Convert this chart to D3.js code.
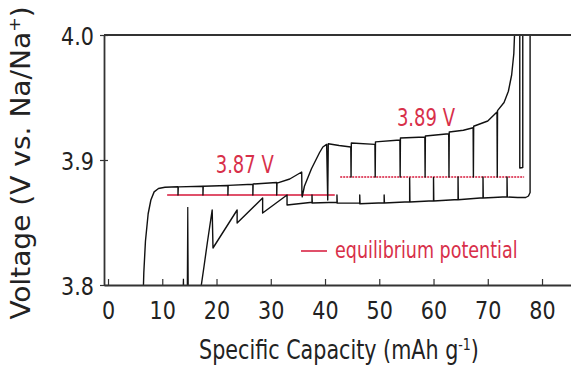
<!DOCTYPE html>
<html>
<head>
<meta charset="utf-8">
<script src="https://cdn.jsdelivr.net/npm/d3@7/dist/d3.min.js"></script>
<style>
  html, body { margin: 0; padding: 0; background: #fff; }
  svg { display: block; }
  .lbl { font-family: "DejaVu Sans Condensed", "DejaVu Sans", sans-serif; font-stretch: condensed; }
</style>
</head>
<body>
<svg id="chart" width="571" height="371"></svg>
<script>
// Axis ticks
const capTicks = [0, 10, 20, 30, 40, 50, 60, 70, 80];
const voltTicks = [3.8, 3.9, 4.0];

// GITT charge branch: [capacity mAh/g, voltage V]
const charge = [
  [6.40, 3.780], [6.60, 3.810], [6.90, 3.835], [7.40, 3.857], [7.90, 3.868], [8.50, 3.8745], [9.30, 3.8772], [10.5, 3.8782],
  [12.9, 3.8786], [12.9, 3.8720], [12.95, 3.8785],
  [17.5, 3.8790], [17.5, 3.8720], [17.55, 3.8790],
  [22.1, 3.8796], [22.1, 3.8720], [22.15, 3.8797],
  [26.7, 3.8806], [26.7, 3.8720], [26.75, 3.8808],
  [31.1, 3.8820], [31.1, 3.8720], [31.15, 3.8815], [33.5, 3.8848], [35.7, 3.8904],
  [35.75, 3.8720], [35.8, 3.8705], [36.2, 3.8790], [37.5, 3.8930], [39.0, 3.9060], [39.6, 3.9104], [40.3, 3.9125],
  [40.5, 3.8680], [40.6, 3.9130], [42.6, 3.9116], [44.75, 3.9104],
  [44.8, 3.8864], [44.85, 3.9136], [49.2, 3.9125],
  [49.25, 3.8864], [49.3, 3.9145], [53.8, 3.9160],
  [53.85, 3.8864], [53.9, 3.9176], [58.4, 3.9184],
  [58.45, 3.8864], [58.5, 3.9192], [62.8, 3.9210],
  [62.85, 3.8864], [62.9, 3.9224], [65.5, 3.9238], [67.3, 3.9258],
  [67.35, 3.8864], [67.4, 3.9270], [70.0, 3.9312], [71.7, 3.9384],
  [71.75, 3.8864], [71.8, 3.9395], [73.0, 3.9460], [73.8, 3.9550], [74.4, 3.9680], [74.8, 3.9850], [75.1, 4.0200],
  [75.9, 4.0200], [75.9, 3.8936], [76.45, 3.8940], [76.45, 4.0200]
];

// GITT discharge branch, running back toward low capacity
const discharge = [
  [77.8, 4.0200], [77.8, 3.8740], [77.5, 3.8712], [77.0, 3.8700], [75.5, 3.8700], [73.55, 3.8704],
  [73.55, 3.8864], [73.6, 3.8706], [71.0, 3.8700], [69.12, 3.8696],
  [69.12, 3.8864], [69.17, 3.8698], [64.52, 3.8682],
  [64.52, 3.8864], [64.57, 3.8684], [60.0, 3.8672],
  [60.0, 3.8860], [60.05, 3.8674], [55.6, 3.8664],
  [55.6, 3.8856], [55.65, 3.8666], [50.9, 3.8656],
  [50.9, 3.8720], [50.95, 3.8658], [46.4, 3.8650],
  [46.4, 3.8720], [46.45, 3.8655], [42.2, 3.8656],
  [42.2, 3.8720], [42.25, 3.8662], [37.6, 3.8656],
  [37.6, 3.8720], [37.65, 3.8662], [33.0, 3.8640],
  [33.0, 3.8720], [28.5, 3.8576],
  [28.5, 3.8696], [23.8, 3.8496],
  [23.8, 3.8600], [19.35, 3.8296],
  [19.2, 3.8600], [18.3, 3.8336], [17.7, 3.8150], [17.2, 3.8000], [17.0, 3.7900]
];

// Final rest after discharge cut-off: [capacity, relaxed voltage]
const tailRest = [[13.8, 3.8050], [14.6, 3.8624]];

// Equilibrium potential segments
const eqFrom = [10.9, 42.8];
const eqTo = [41.8, 76.7];
const eqVolt = [3.872, 3.8864];
const eqText = ["3.87 V", "3.89 V"];
const eqTextAt = [[25.2, 3.8952], [58.6, 3.9328]];

const svg = d3.select("#chart");
const plotLeft = 104, plotTop = 35, plotBottom = 285, plotRight = 580;

const x = d3.scaleLinear().domain([-0.74, 87]).range([plotLeft, plotRight]);
const y = d3.scaleLinear().domain([3.8, 4.0]).range([plotBottom, plotTop]);

const red = "#d8304a";
const ink = "#222";

// text placed at (px, py), stretched vertically by sy
function label(px, py, sy, size, color, anchor) {
  return svg.append("g").attr("transform", `translate(${px},${py}) scale(1,${sy})`)
    .append("text").attr("class", "lbl").attr("font-size", size)
    .attr("fill", color).attr("text-anchor", anchor);
}

svg.append("defs").append("clipPath").attr("id", "plotClip")
  .append("rect").attr("x", plotLeft).attr("y", plotTop)
  .attr("width", plotRight - plotLeft).attr("height", plotBottom - plotTop);

const plot = svg.append("g").attr("clip-path", "url(#plotClip)");

// equilibrium lines
eqVolt.forEach((v, i) => {
  plot.append("line")
    .attr("x1", x(eqFrom[i])).attr("x2", x(eqTo[i]))
    .attr("y1", y(v)).attr("y2", y(v))
    .attr("stroke", "#e0506a").attr("stroke-width", 2)
    .attr("stroke-dasharray", i === 1 ? "2,1" : null);
});

const line = d3.line().x(d => x(d[0])).y(d => y(d[1]));

[charge, discharge].forEach(s => {
  plot.append("path").datum(s).attr("d", line)
    .attr("fill", "none").attr("stroke", "#111").attr("stroke-width", 1.4)
    .attr("stroke-linejoin", "round");
});

tailRest.forEach(d => {
  plot.append("path").datum([[d[0], 3.79], [d[0] + 0.1, d[1]], [d[0] + 0.2, 3.79]]).attr("d", line)
    .attr("fill", "none").attr("stroke", "#111").attr("stroke-width", 1.2);
});

// value labels
eqText.forEach((t, i) => {
  label(x(eqTextAt[i][0]), y(eqTextAt[i][1]) + 7, 1.2, 20, red, "middle").text(t);
});

// legend
svg.append("line").attr("x1", 301).attr("x2", 327).attr("y1", 251).attr("y2", 251)
  .attr("stroke", "#e0506a").attr("stroke-width", 2);
label(335, 258, 1.2, 19.5, red, "start").text("equilibrium potential");

// frame
const frame = svg.append("g").attr("stroke", "#333").attr("stroke-width", 1.8).attr("fill", "none");
frame.append("line").attr("x1", plotLeft).attr("x2", plotRight).attr("y1", plotTop).attr("y2", plotTop);
frame.append("line").attr("x1", plotRight).attr("x2", plotRight).attr("y1", plotTop).attr("y2", plotBottom);

// x axis
const xAxis = svg.append("g").attr("transform", `translate(0,${plotBottom})`)
  .call(d3.axisBottom(x).tickValues(capTicks).tickSizeInner(-6).tickSizeOuter(0).tickFormat(d3.format("d")));
xAxis.select(".domain").attr("stroke", "#333").attr("stroke-width", 1.8);
xAxis.selectAll(".tick line").attr("stroke", "#333").attr("stroke-width", 1.2);
xAxis.selectAll(".tick text")
  .attr("class", "lbl").attr("font-size", 23).attr("fill", ink)
  .attr("y", 0).attr("dy", 0).attr("transform", "translate(0,34) scale(1,1.1)");

// y axis
const yAxis = svg.append("g").attr("transform", `translate(${plotLeft},0)`)
  .call(d3.axisLeft(y).tickValues(voltTicks).tickSizeInner(4).tickSizeOuter(0).tickFormat(d3.format(".1f")));
yAxis.select(".domain").attr("stroke", "#333").attr("stroke-width", 1.8);
yAxis.selectAll(".tick line").attr("stroke", "#333").attr("stroke-width", 1.2).attr("x2", 4).attr("x1", -4);
yAxis.selectAll(".tick text")
  .attr("class", "lbl").attr("font-size", 23).attr("fill", ink)
  .attr("x", 0).attr("dy", 0).attr("transform", "translate(-10,9) scale(1,1.1)");

// axis titles
const xt = label(339, 359, 1.18, 23, ink, "middle");
xt.append("tspan").text("Specific Capacity (mAh g");
xt.append("tspan").attr("font-size", 14).attr("dy", -8).text("-1");
xt.append("tspan").attr("dy", 8).text(")");

const yt = svg.append("g").attr("transform", "translate(30,163) scale(1,1.2) rotate(-90)")
  .append("text").attr("class", "lbl")
  .attr("text-anchor", "middle").attr("font-size", 26).attr("fill", ink);
yt.append("tspan").text("Voltage (V vs. Na/Na");
yt.append("tspan").attr("font-size", 16).attr("dy", -10).text("+");
yt.append("tspan").attr("dy", 10).text(")");
</script>
</body>
</html>
